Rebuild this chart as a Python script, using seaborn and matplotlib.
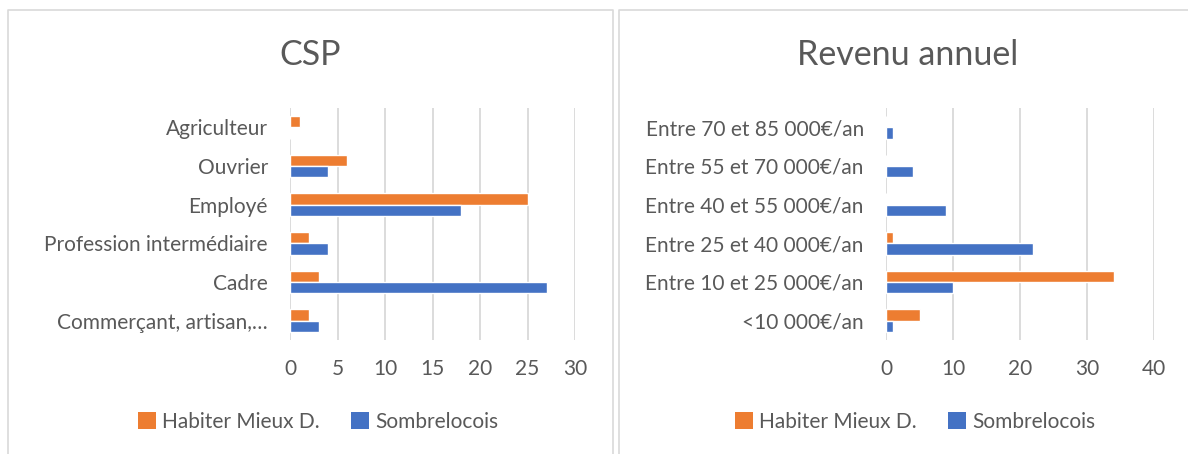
import matplotlib
matplotlib.use("Agg")
import matplotlib.pyplot as plt
import seaborn as sns
import pandas as pd
from matplotlib.patches import Patch
from matplotlib.lines import Line2D

# data
series = ["Habiter Mieux D.", "Sombrelocois"]
colors = ["#ED7D31", "#4472C4"]

csp_labels = ["Agriculteur", "Ouvrier", "Employé", "Profession intermédiaire",
              "Cadre", "Commerçant, artisan,…"]
csp_habiter = [1, 6, 25, 2, 3, 2]
csp_sombre = [0, 4, 18, 4, 27, 3]

rev_labels = ["Entre 70 et 85 000€/an", "Entre 55 et 70 000€/an", "Entre 40 et 55 000€/an",
              "Entre 25 et 40 000€/an", "Entre 10 et 25 000€/an", "<10 000€/an"]
rev_habiter = [0, 0, 0, 1, 34, 5]
rev_sombre = [1, 4, 9, 22, 10, 1]


def make_df(labels, a, b):
    return pd.DataFrame({
        "cat": labels * 2,
        "serie": [series[0]] * len(labels) + [series[1]] * len(labels),
        "val": a + b,
    })


sns.set_style("white")
plt.rcParams['font.family'] = ['Lato', 'DejaVu Sans']

fig = plt.figure(figsize=(11.88, 4.54), dpi=100)
W, H = 1188, 454

# panel frames
for x0, x1 in [(8, 613), (619, 1195)]:
    fig.add_artist(Line2D([x0 / W, x1 / W, x1 / W, x0 / W, x0 / W],
                          [-0.01, -0.01, 1 - 10 / H, 1 - 10 / H, -0.01],
                          color="#D9D9D9", lw=1.2, transform=fig.transFigure))

ax1 = fig.add_axes([290 / W, 1 - 340 / H, 285 / W, 232 / H])
ax2 = fig.add_axes([886 / W, 1 - 340 / H, 268 / W, 232 / H])

panels = [
    (ax1, make_df(csp_labels, csp_habiter, csp_sombre), csp_labels, 30, 5, "CSP", 310, 318),
    (ax2, make_df(rev_labels, rev_habiter, rev_sombre), rev_labels, 40, 10, "Revenu annuel", 908, 915),
]

for ax, df, order, xmax, step, title, tx, lx in panels:
    sns.barplot(data=df, x="val", y="cat", hue="serie", order=order, hue_order=series,
                palette=colors, orient="h", width=0.58, gap=0, saturation=1,
                ax=ax, legend=False)
    ax.set_xlim(0, xmax)
    ax.set_xticks(range(0, xmax + 1, step))
    ax.set_ylim(len(order) - 0.5, -0.5)
    ax.grid(axis="x", color="#D9D9D9", lw=1.3)
    ax.set_axisbelow(True)
    for s in ax.spines.values():
        s.set_visible(False)
    ax.set_xlabel("")
    ax.set_ylabel("")
    ax.tick_params(axis="both", length=0, labelsize=15, labelcolor="#595959")
    ax.tick_params(axis="y", pad=16)
    ax.tick_params(axis="x", pad=14)
    fig.text(tx / W, 1 - 55 / H, title, ha="center", va="center",
             fontsize=24.5, color="#595959")
    handles = [Patch(facecolor=c, edgecolor="none") for c in colors]
    ax.legend(handles, series, loc="center", ncol=2, frameon=False,
              bbox_to_anchor=(lx / W, 1 - 422 / H), bbox_transform=fig.transFigure,
              fontsize=15, labelcolor="#595959", handlelength=0.85, handleheight=0.85,
              handletextpad=0.3, columnspacing=1.5)

fig.savefig("out.png", dpi=100, facecolor="white")
